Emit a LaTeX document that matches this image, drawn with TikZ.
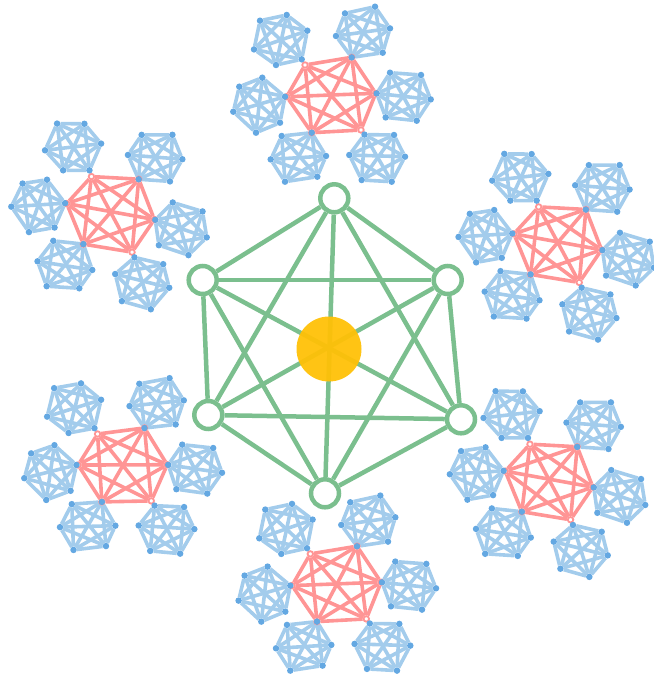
\documentclass[tikz,border=0pt]{standalone}
\usetikzlibrary{backgrounds}
\definecolor{hubgreen}{HTML}{7BBF8E}
\definecolor{hubgold}{HTML}{FFC107}
\definecolor{ringred}{HTML}{FF9595}
\definecolor{leafblue}{HTML}{A3CCEC}
\definecolor{dotblue}{HTML}{64A8E2}

\begin{document}
\begin{tikzpicture}[x=1pt, y=-1pt,
  hub edge/.style={hubgreen, line width=4.5pt},
  hub node/.style={circle, draw=hubgreen, fill=white, line width=4.5pt, minimum size=28pt, inner sep=0pt},
  core/.style={circle, fill=hubgold, opacity=0.95, minimum size=65pt, inner sep=0pt},
  ring edge/.style={ringred, line width=3.6pt},
  ring node/.style={circle, draw=ringred, fill=white, line width=1.8pt, minimum size=5.5pt, inner sep=0pt},
  leaf edge/.style={leafblue, line width=3.6pt},
  leaf node/.style={circle, fill=dotblue, minimum size=6.5pt, inner sep=0pt},
]
\useasboundingbox (0,0) rectangle (653,677);

% ===== Hub: six green nodes, all joined =====
\foreach \x/\y [count=\i] in {334.3/198.3, 447.7/280, 461/419.3, 325/493.3, 208.3/415, 202.7/280}
  \node[hub node] (h\i) at (\x,\y) {};
\begin{pgfonlayer}{background}
  \foreach \i in {1,...,5} {
    \pgfmathtruncatemacro{\n}{\i+1}
    \foreach \j in {\n,...,6}
      \draw[hub edge] (h\i) -- (h\j);
  }
\end{pgfonlayer}
\node[core] (core) at (329,349) {};

% ===== Clusters: red ring with six blue leaves each =====
\foreach \cx/\cy/\rot/\k in {331.5/95.1/0/t, 336.8/584/0/b, 110.8/211.7/-12.5/tl,
                            549.3/479.3/-12.5/br, 558/242/-12.5/tr, 123/465/-2/bl} {
  \begin{scope}[shift={(\cx,\cy)}, rotate=\rot]
    % red ring
    \foreach \x/\y [count=\i] in {-26.5/-30.1, 20.2/-37.8, 44.2/-1.8, 29.5/34.9, -19.8/37.6, -44.8/1.6}
      \node[ring node] (\k-r\i) at (\x,\y) {};
    % blue leaves, one on each red node
    \foreach \pts [count=\j] in {
        {-71.5/-74.4, -44.8/-80.1, -24.2/-64.4, -29.8/-35.8, -55.5/-30.1, -77.5/-45.7},
        {13.5/-81.7, 43.5/-88.4, 58.5/-66.7, 51.2/-42.4, 20.2/-37.7, 4.5/-59.1},
        {58.5/-22.4, 89.5/-20.1, 99.2/4.3, 85.2/25.6, 54.2/22.3, 45.2/-1.7},
        {33/39.5, 62.5/39.9, 73.5/61.6, 60.2/86.6, 30.2/84.9, 17.8/59.9},
        {-49.8/40.9, -19.8/37.6, -5.5/60.9, -14.2/81.6, -46.5/86.6, -60.8/64.3},
        {-92.2/-8.4, -69.2/-17.4, -46.5/1.6, -51.5/27.6, -75.5/37.6, -98.2/16.6}} {
      \foreach \x/\y [count=\i] in \pts
        \node[leaf node] (\k-b\j-\i) at (\x,\y) {};
    }
    \begin{pgfonlayer}{background}
      \foreach \i in {1,...,5} {
        \pgfmathtruncatemacro{\n}{\i+1}
        \foreach \m in {\n,...,6} {
          \draw[ring edge] (\k-r\i) -- (\k-r\m);
          \foreach \j in {1,...,6}
            \draw[leaf edge] (\k-b\j-\i) -- (\k-b\j-\m);
        }
      }
    \end{pgfonlayer}
  \end{scope}
}

\end{tikzpicture}
\end{document}
